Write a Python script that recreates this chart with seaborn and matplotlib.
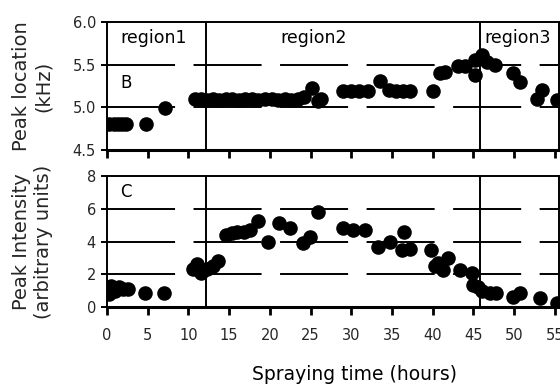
import matplotlib
matplotlib.use("Agg")
import matplotlib.pyplot as plt
import seaborn as sns
import pandas as pd

# Panel B: peak location (kHz) vs spraying time (hours)
loc_time = [0.3, 0.8, 1.3, 1.8, 2.3, 4.8, 7.1,
            10.8, 11.5, 12.3, 13.0, 13.8, 14.6, 15.4, 16.2, 17.0, 17.8,
            18.6, 19.4, 20.2, 21.0, 21.8, 22.6, 23.4, 24.2, 25.2, 25.9, 26.3,
            29.0, 30.0, 31.0, 32.0, 33.5, 34.6, 35.5, 36.3, 37.2,
            40.0, 40.9, 41.5, 43.1, 44.0, 45.2, 45.2, 46.1, 46.7, 47.7,
            49.8, 50.7, 52.8, 53.4, 55.3]
loc_khz = [4.80, 4.80, 4.80, 4.80, 4.80, 4.80, 4.99,
           5.10, 5.10, 5.09, 5.10, 5.09, 5.10, 5.10, 5.09, 5.10, 5.10,
           5.09, 5.10, 5.10, 5.09, 5.10, 5.09, 5.10, 5.12, 5.23, 5.07, 5.10,
           5.19, 5.19, 5.19, 5.19, 5.31, 5.20, 5.19, 5.19, 5.19,
           5.19, 5.40, 5.41, 5.49, 5.49, 5.55, 5.38, 5.61, 5.53, 5.50,
           5.40, 5.30, 5.10, 5.20, 5.09]

# Panel C: peak intensity (arbitrary units) vs spraying time (hours)
int_time = [0.2, 0.5, 1.0, 1.5, 2.0, 2.6, 4.7, 7.0,
            10.5, 11.0, 11.6, 12.3, 13.0, 13.6,
            14.6, 15.3, 16.0, 16.8, 17.5, 18.6, 19.8, 21.1, 22.5, 24.1, 24.9, 25.9,
            29.0, 30.2, 31.7, 33.3, 34.8, 36.5, 36.2, 37.2,
            39.8, 40.3, 40.7, 41.2, 41.9, 43.4, 44.8,
            45.0, 45.6, 46.0, 47.0, 47.8, 49.9, 50.7, 53.2, 55.3]
int_au = [0.8, 1.3, 1.0, 1.2, 1.1, 1.1, 0.85, 0.85,
          2.3, 2.6, 2.1, 2.3, 2.5, 2.8,
          4.4, 4.5, 4.6, 4.6, 4.7, 5.24, 4.0, 5.1, 4.8, 3.9, 4.27, 5.8,
          4.8, 4.7, 4.7, 3.66, 3.96, 4.57, 3.5, 3.54,
          3.5, 2.5, 2.7, 2.26, 3.0, 2.26, 2.1,
          1.34, 1.2, 1.0, 0.85, 0.85, 0.6, 0.85, 0.55, 0.25]

# Region boundaries (hours) and axis ticks
region_bounds = [12.2, 45.8]
region_names = ["region1", "region2", "region3"]
region_text_x = [1.6, 21.3, 46.3]
x_ticks = [0, 5, 10, 15, 20, 25, 30, 35, 40, 45, 50, 55]
loc_ticks = [4.5, 5.0, 5.5, 6.0]
int_ticks = [0, 2, 4, 6, 8]

sns.set_theme(style="ticks")
plt.rcParams["font.family"] = ["DejaVu Sans"]
plt.rcParams["lines.scale_dashes"] = False

fig = plt.figure(figsize=(5.6, 3.89), dpi=100)
ax_b = fig.add_axes([107 / 560, 1 - 150 / 389, 452 / 560, 128 / 389])
ax_c = fig.add_axes([107 / 560, 1 - 307 / 389, 452 / 560, 131 / 389])

df_b = pd.DataFrame({"time": loc_time, "loc": loc_khz})
df_c = pd.DataFrame({"time": int_time, "inten": int_au})

dash = (0, (49, 13.3))

for ax, ticks in ((ax_b, loc_ticks), (ax_c, int_ticks)):
    ax.set_xlim(0, 55.5)
    ax.set_ylim(ticks[0], ticks[-1])
    ax.set_xticks(x_ticks)
    ax.set_yticks(ticks)
    for y in ticks[1:-1]:
        ax.axhline(y, color="black", lw=1.4, ls=dash, zorder=1)
    for xb in region_bounds:
        ax.axvline(xb, color="black", lw=1.4, zorder=1)
    for side in ("top", "right", "left", "bottom"):
        ax.spines[side].set_visible(True)
        ax.spines[side].set_color("black")
        ax.spines[side].set_linewidth(1.4)
    ax.spines["bottom"].set_linewidth(2.2)
    ax.tick_params(axis="x", direction="out", length=6, width=2, color="black",
                   labelsize=10.5, pad=9)
    ax.tick_params(axis="y", direction="out", length=4, width=1.4, color="black",
                   labelsize=10.5, pad=4)
    ax.set_facecolor("white")

sns.scatterplot(data=df_b, x="time", y="loc", ax=ax_b, color="black",
                s=110, linewidth=0, zorder=3, legend=False)
sns.scatterplot(data=df_c, x="time", y="inten", ax=ax_c, color="black",
                s=110, linewidth=0, zorder=3, legend=False)

ax_b.set_yticklabels([f"{t:.1f}" for t in loc_ticks])
ax_c.set_yticklabels([str(t) for t in int_ticks])
ax_b.tick_params(axis="x", labelbottom=False)

ax_b.set_xlabel("")
ax_c.set_xlabel("")
ax_b.set_ylabel("Peak location\n(kHz)", fontsize=14, linespacing=1.2)
ax_c.set_ylabel("Peak Intensity\n(arbitrary units)", fontsize=14, linespacing=1.2)
ax_b.yaxis.set_label_coords(-0.12, 0.5)
ax_c.yaxis.set_label_coords(-0.12, 0.5)

for name, xt in zip(region_names, region_text_x):
    ax_b.text(xt, 5.81, name, fontsize=12.5, ha="left", va="center", color="black")
ax_b.text(1.6, 5.29, "B", fontsize=12, ha="left", va="center", color="black")
ax_c.text(1.6, 7.0, "C", fontsize=12, ha="left", va="center", color="black")

fig.text(354 / 560, 1 - 375 / 389, "Spraying time (hours)", fontsize=13.5,
         ha="center", va="center", color="black")

fig.savefig("out.png", dpi=100, facecolor="white")
